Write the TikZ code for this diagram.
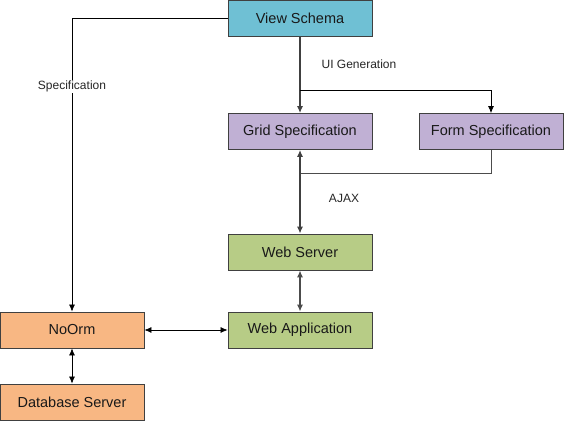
\documentclass[tikz,border=0pt]{standalone}
\usepackage{fontspec}
\setmainfont{Liberation Sans}
\usetikzlibrary{arrows.meta}
\definecolor{cView}{HTML}{6FC0D4}
\definecolor{cSpec}{HTML}{C0B0D4}
\definecolor{cWeb}{HTML}{B7CC86}
\definecolor{cOrm}{HTML}{F8B783}
\definecolor{cBorder}{HTML}{404040}
\begin{document}
\begin{tikzpicture}[x=1pt,y=-1pt,
  box/.style={draw=cBorder,line width=0.8pt,minimum width=144pt,minimum height=36pt,inner sep=0pt,font=\fontsize{14.5}{16}\selectfont,text=black!90},
  lbl/.style={font=\fontsize{12}{14}\selectfont,text=black!85,inner sep=1pt},
  tip/.style={-{Latex[length=7pt,width=6pt]}},
  conn/.style={line width=0.7pt,black},
  thick conn/.style={line width=1.3pt,black!75}]
\useasboundingbox (0,0) rectangle (564,420);
\node[box,fill=cView] (view) at (300,18) {View Schema};
\node[box,fill=cSpec] (grid) at (300,131.5) {Grid Specification};
\node[box,fill=cSpec] (form) at (491,131.5) {Form Specification};
\node[box,fill=cWeb] (ws) at (300,252) {Web Server};
\node[box,fill=cWeb] (wa) at (300,330) {Web Application};
\node[box,fill=cOrm] (orm) at (72,330) {NoOrm};
\node[box,fill=cOrm] (db) at (72,402) {Database Server};
\coordinate (jUI) at (300,90);
\coordinate (jAJ) at (300,173);
% Specification
\draw[conn,tip] (view.west) -| (orm.north) node[pos=0.617,lbl,fill=white] (spec) {Specification};
% UI generation
\draw[thick conn,tip] (view.south) -- (grid.north);
\draw[conn,tip] (jUI) -| (form.north);
\node[lbl] (uig) at (359,64) {UI Generation};
% AJAX
\draw[conn,black!70] (form.south) |- (jAJ);
\draw[thick conn,{Latex[length=7pt,width=6pt]}-{Latex[length=7pt,width=6pt]}] (grid.south) -- (ws.north);
\node[lbl] (ajax) at (344,198) {AJAX};
% lower
\draw[thick conn,black!70,{Latex[length=7pt,width=6pt]}-{Latex[length=7pt,width=6pt]}] (ws.south) -- (wa.north);
\draw[conn,{Latex[length=7pt,width=6pt]}-{Latex[length=7pt,width=6pt]}] (orm.east) -- (wa.west);
\draw[conn,{Latex[length=7pt,width=6pt]}-{Latex[length=7pt,width=6pt]}] (orm.south) -- (db.north);
\end{tikzpicture}
\end{document}
